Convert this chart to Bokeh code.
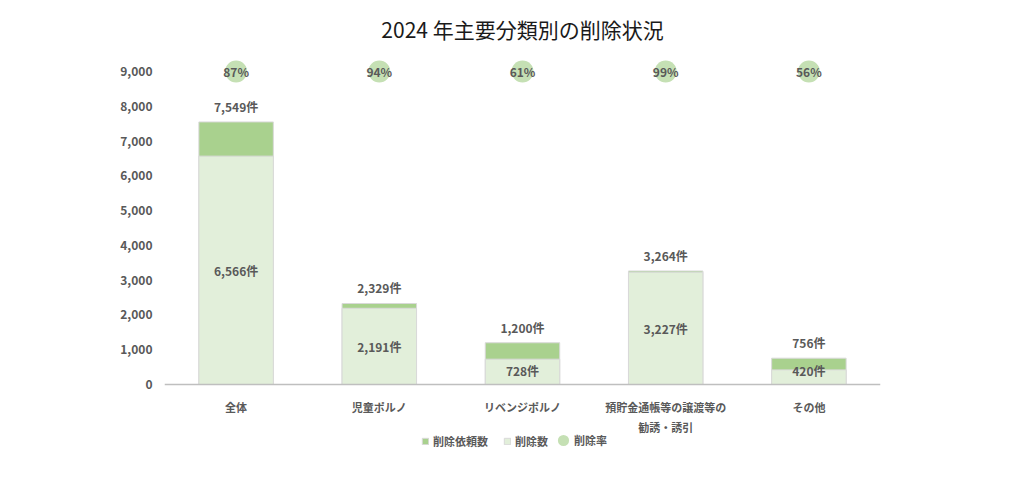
from bokeh.plotting import figure
from bokeh.models import ColumnDataSource, FactorRange, Range1d, NumeralTickFormatter, Legend, LegendItem, FixedTicker, Span
from bokeh.core.properties import value
from bokeh.embed import file_html
from bokeh.resources import INLINE

categories = ["全体", "児童ポルノ", "リベンジポルノ", "預貯金通帳等の譲渡等の\n勧誘・誘引", "その他"]
requests = [7549, 2329, 1200, 3264, 756]      # 削除依頼数
deleted = [6566, 2191, 728, 3227, 420]        # 削除数
rates = [87, 94, 61, 99, 56]                  # 削除率 (%)
rate_y = 9000
yticks = [0, 1000, 2000, 3000, 4000, 5000, 6000, 7000, 8000, 9000]

FONT = "Noto Sans CJK JP"
TXT = "#595959"
DARK = "#a9d18e"
LIGHT = "#e2efda"
CIRC = "#c5e0b4"

lines = [c.split("\n") for c in categories]
src = ColumnDataSource(dict(
    cat=categories,
    line1=[l[0] for l in lines],
    line2=[l[1] if len(l) > 1 else "" for l in lines],
    zero=[0] * len(categories),
    req=requests,
    dele=deleted,
    dele_mid=[max(d / 2, 400) for d in deleted],
    req_lbl=[f"{v:,}件" for v in requests],
    del_lbl=[f"{v:,}件" for v in deleted],
    rate_lbl=[f"{r}%" for r in rates],
    rate_y=[rate_y] * len(categories),
))

W, H = 1008, 470
p = figure(x_range=FactorRange(*categories, range_padding=0.0), y_range=Range1d(-2473, 9488),
           width=W, height=H, output_backend="svg", toolbar_location=None,
           x_axis_location=None,
           min_border_left=164, min_border_right=128, min_border_bottom=0, min_border_top=54)
p.x_range.factor_padding = 0.0

p.title.text = "2024 年主要分類別の削除状況"
p.title.align = "center"
p.title.text_font = FONT
p.title.text_font_size = "21px"
p.title.text_font_style = "normal"
p.title.text_color = "#1a1a1a"
p.title.standoff = 22

p.outline_line_color = None
p.grid.grid_line_color = None

r1 = p.vbar(x="cat", top="req", width=0.52, source=src, fill_color=DARK, line_color="#d9d9d9", line_width=1)
r2 = p.vbar(x="cat", top="dele", width=0.52, source=src, fill_color=LIGHT, line_color="#d9d9d9", line_width=1)
r3 = p.ellipse(x="cat", y="rate_y", width=22, height=22, width_units="screen", height_units="screen",
               source=src, fill_color=CIRC, line_color=None)

# x axis baseline at 0
p.add_layout(Span(location=0, dimension="width", line_color="#bfbfbf", line_width=1.5))

common = dict(text_font=value(FONT), text_font_size="12px", text_font_style="bold", text_color=TXT, text_align="center")
p.text(x="cat", y="req", text="req_lbl", source=src, text_baseline="bottom", y_offset=-7, **common)
p.text(x="cat", y="dele_mid", text="del_lbl", source=src, text_baseline="middle", **common)
p.text(x="cat", y="rate_y", text="rate_lbl", source=src, text_baseline="middle", **common)

cat_style = dict(common, text_font_size="11px")
p.text(x="cat", y="zero", text="line1", source=src, text_baseline="middle", y_offset=23, **cat_style)
p.text(x="cat", y="zero", text="line2", source=src, text_baseline="middle", y_offset=43, **cat_style)

yax = p.yaxis[0]
yax.ticker = FixedTicker(ticks=yticks)
yax.formatter = NumeralTickFormatter(format="0,0")
yax.axis_line_color = None
yax.major_tick_line_color = None
yax.minor_tick_line_color = None
yax.major_tick_out = 0
yax.major_tick_in = 0
yax.major_label_text_font = FONT
yax.major_label_text_font_size = "12px"
yax.major_label_text_font_style = "bold"
yax.major_label_text_color = TXT
yax.major_label_standoff = 12

leg_style = dict(label_text_font=FONT, label_text_font_size="11px", label_text_font_style="bold",
                 label_text_color=TXT, label_standoff=4, spacing=15,
                 background_fill_alpha=0, border_line_color=None, padding=0, margin=0,
                 orientation="horizontal")
legend_a = Legend(items=[
    LegendItem(label="削除依頼数", renderers=[r1]),
    LegendItem(label="削除数", renderers=[r2]),
], location=(257, 21), glyph_width=8, glyph_height=8, **leg_style)
legend_b = Legend(items=[
    LegendItem(label="削除率", renderers=[r3]),
], location=(392, 22), glyph_width=14, glyph_height=14, **leg_style)
p.add_layout(legend_a)
p.add_layout(legend_b)

open("out.html", "w").write(file_html(p, INLINE))
